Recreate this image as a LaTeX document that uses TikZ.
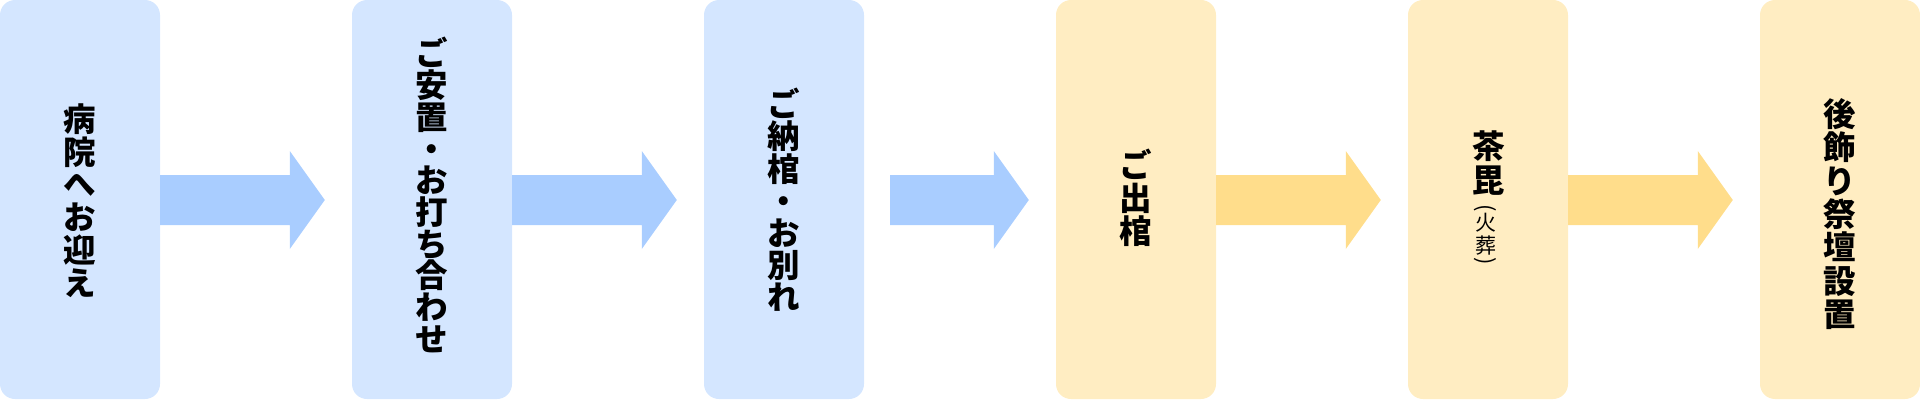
\documentclass[tikz,border=0pt]{standalone}
\usepackage{fontspec}
\usepackage{graphicx}
\newfontfamily\jp{Noto Sans CJK JP}
\usetikzlibrary{calc}
\definecolor{boxblue}{HTML}{D4E6FF}
\definecolor{arrblue}{HTML}{A9CDFF}
\definecolor{boxyel}{HTML}{FFEDC2}
\definecolor{arryel}{HTML}{FFDD8B}
\newcommand\flowarrow[4]{%
  \path[fill=#3] let \p1=(#1.east), \p2=(#2.west) in
    (\x1+#4pt,225pt) -- (\x2-62pt,225pt) -- (\x2-62pt,249pt) -- (\x2-27pt,200pt)
    -- (\x2-62pt,151pt) -- (\x2-62pt,175pt) -- (\x1+#4pt,175pt) -- cycle;}
\newcommand\bigfont[1]{\jp\bfseries\fontsize{32.5}{#1}\selectfont\lineskiplimit=-100pt}
\begin{document}
\begin{tikzpicture}[x=1pt,y=1pt,
  stepbox/.style={minimum width=160pt,minimum height=399pt,inner sep=0pt,
    rounded corners=15pt,draw=none},
  bluebox/.style={stepbox,fill=boxblue},
  yelbox/.style={stepbox,fill=boxyel},
  lbl/.style={font=\bigfont{#1},align=center,inner sep=0pt,text=black},
  lbl/.default=32.5,
  sub/.style={font=\jp\fontsize{21}{21}\selectfont,inner sep=0pt,text=black},
  paren/.style={font=\jp\fontsize{22}{22}\selectfont,inner sep=0pt,text=black}]
\useasboundingbox (0,0) rectangle (1920,400);
\node[bluebox] (b1) at (80,200.5) {};
\node[bluebox] (b2) at (432,200.5) {};
\node[bluebox] (b3) at (784,200.5) {};
\node[yelbox] (b4) at (1136,200.5) {};
\node[yelbox] (b5) at (1488,200.5) {};
\node[yelbox] (b6) at (1840,200.5) {};
\flowarrow{b1}{b2}{arrblue}{0}
\flowarrow{b2}{b3}{arrblue}{0}
\flowarrow{b3}{b4}{arrblue}{26}
\flowarrow{b4}{b5}{arryel}{0}
\flowarrow{b5}{b6}{arryel}{0}
\node[lbl=32.8] (t1) at (80,199.5) {病\\院\\へ\\お\\迎\\え};
\node[lbl=31.7] (t2) at (432,205) {ご\\安\\置\\・\\お\\打\\ち\\合\\わ\\せ};
\node[lbl=32.2] (t3) at (784,200) {ご\\納\\棺\\・\\お\\別\\れ};
\node[lbl=33] (t4) at (1136,202) {ご\\出\\棺};
\node[lbl=34] (t5) at (1488.5,236.5) {茶\\毘};
\node[paren] (t5p1) at (1485.5,192) {\rotatebox{-90}{(}};
\node[sub] (t5h) at (1486,177) {火};
\node[sub] (t5s) at (1486,154.5) {葬};
\node[paren] (t5p2) at (1485.5,138.5) {\rotatebox{-90}{)}};
\node[lbl=33.3] (t6) at (1840,186) {後\\飾\\り\\祭\\壇\\設\\置};
\end{tikzpicture}
\end{document}
